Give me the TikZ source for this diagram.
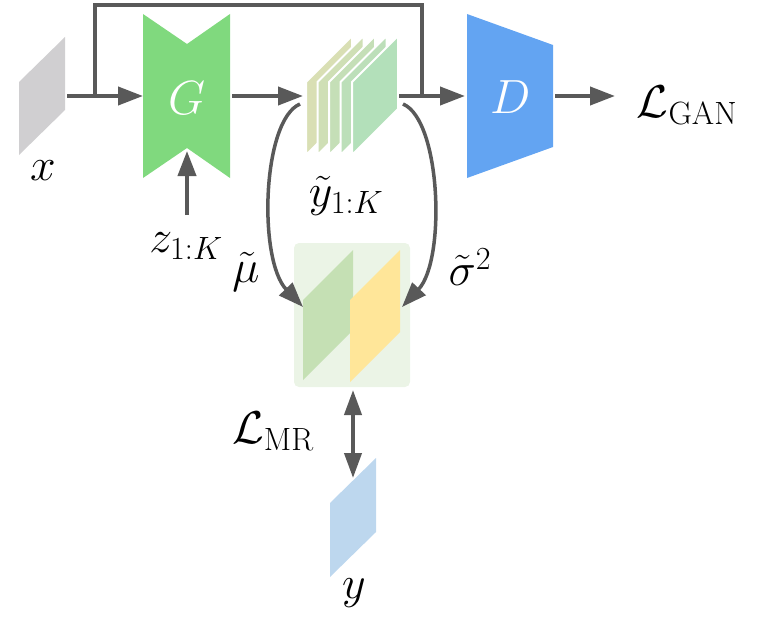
\RequirePackage{fix-cm}
\documentclass[tikz,border=0pt]{standalone}
\usetikzlibrary{arrows.meta}
\definecolor{cline}{HTML}{595959}
\definecolor{cgray}{HTML}{D0CFD1}
\definecolor{cgen}{HTML}{80D97E}
\definecolor{cdis}{HTML}{63A4F2}
\definecolor{cs1}{HTML}{D9DFB4}
\definecolor{cs2}{HTML}{CFDFB5}
\definecolor{cs3}{HTML}{C5DFB7}
\definecolor{cs4}{HTML}{BCDFB9}
\definecolor{cs5}{HTML}{B3E0BA}
\definecolor{cbox}{HTML}{EBF4E6}
\definecolor{cmu}{HTML}{C5E0B4}
\definecolor{csig}{HTML}{FFE699}
\definecolor{cy}{HTML}{BDD7EE}
\tikzset{
  conn/.style={draw=cline, line width=4pt},
  arr/.style={conn, -{Triangle[length=25pt,width=18pt]}},
  curvearr/.style={draw=cline, line width=3.5pt, -{Triangle[length=25pt,width=18pt]}},
  dblarr/.style={conn, {Triangle[length=25pt,width=17pt]}-{Triangle[length=25pt,width=17pt]}},
  lbl/.style={inner sep=0pt, font=\fontsize{46}{50}\selectfont},
  letter/.style={inner sep=0pt, text=white, font=\fontsize{48}{52}\selectfont},
  stackpanel/.style={draw=white, line width=2pt}
}
\begin{document}
\begin{tikzpicture}[x=1pt,y=-1pt]
\useasboundingbox (0,0) rectangle (760,634);
% input x
\fill[cgray] (19,155) -- (19,82) -- (65,37) -- (65,110) -- cycle;
\coordinate (xout) at (67,96);
\node[lbl] (xl) at (43,171) {$x$};
% generator
\fill[cgen] (143,14) -- (187,44) -- (230,14) -- (230,178) -- (187,148) -- (143,178) -- cycle;
\coordinate (gin) at (143,96);
\coordinate (gout) at (232,96);
\coordinate (gbot) at (187,151);
\node[letter] (G) at (187,98) {$G$};
% stack of samples
\foreach \L/\c in {306/cs1, 317.5/cs2, 329/cs3, 340.5/cs4, 352/cs5}{
  \filldraw[fill=\c, stackpanel] (\L,155) -- (\L,82) -- (\L+46,36) -- (\L+46,109) -- cycle;
}
\coordinate (sin) at (303,96);
\coordinate (sout) at (399,96);
\coordinate (sl) at (300,104);
\coordinate (sr) at (403,104);
\node[lbl] (yt) at (346,196) {$\tilde{y}_{1:K}$};
% discriminator
\fill[cdis] (467,14) -- (553,45) -- (553,147) -- (467,178) -- cycle;
\coordinate (din) at (465,96);
\coordinate (dout) at (555,96);
\node[letter] (D) at (511,97) {$D$};
\node[lbl] (lgan) at (687,105) {$\mathcal{L}_{\mathrm{GAN}}$};
\coordinate (lganin) at (615,96);
% z
\node[lbl] (z) at (186,246) {$z_{1:K}$};
\coordinate (zs) at (187,215);
% statistics box
\fill[cbox, rounded corners=5pt] (294,243) rectangle (410,387);
\fill[cmu] (303,380) -- (303,300) -- (353,250) -- (353,330) -- cycle;
\fill[csig] (350,382) -- (350,300) -- (400,250) -- (400,332) -- cycle;
\coordinate (mutip) at (303,307);
\coordinate (sigtip) at (402,307);
\coordinate (boxbot) at (353,390);
\node[lbl] (mu) at (246,272) {$\tilde{\mu}$};
\node[lbl] (sig) at (470,267) {$\tilde{\sigma}^2$};
% target y
\fill[cy] (330,577) -- (330,503) -- (376,458) -- (376,532) -- cycle;
\coordinate (ytop) at (353,478);
\node[lbl] (ylbl) at (354,593) {$y$};
\node[lbl] (lmr) at (273,431) {$\mathcal{L}_{\mathrm{MR}}$};
% connectors
\draw[arr] (xout) -- (gin);
\draw[conn] (95,96) -- (95,5) -- (422,5) -- (422,96);
\draw[arr] (gout) -- (sin);
\draw[arr] (sout) -- (din);
\draw[arr] (dout) -- (lganin);
\draw[arr] (zs) -- (gbot);
\draw[curvearr] (sl) .. controls (262,120) and (258,260) .. (mutip);
\draw[curvearr] (sr) .. controls (441,120) and (446,260) .. (sigtip);
\draw[dblarr] (boxbot) -- (ytop);
\end{tikzpicture}
\end{document}
